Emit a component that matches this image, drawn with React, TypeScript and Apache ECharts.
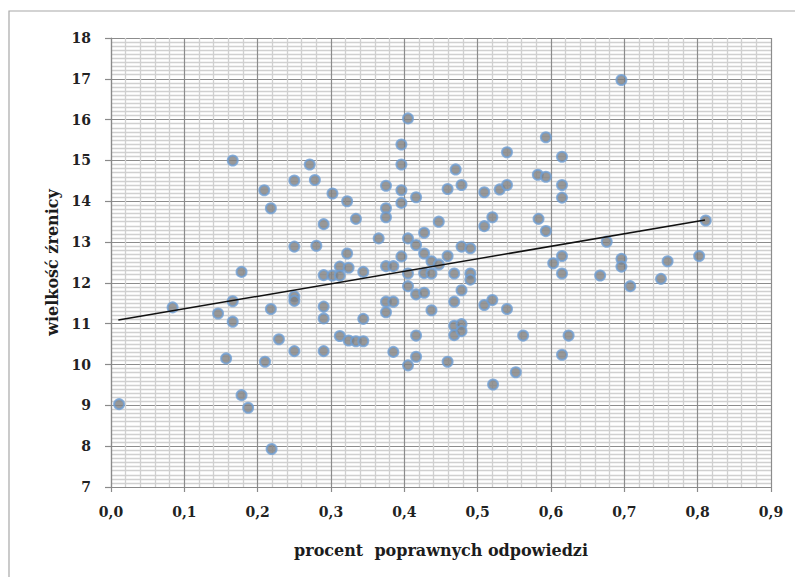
import React, { useEffect, useRef } from "react";
import * as echarts from "echarts";

// procent poprawnych odpowiedzi (x) and wielkość źrenicy (y)
const percentCorrect = [
  0.011, 0.084, 0.146, 0.157, 0.166, 0.166, 0.166, 0.178, 0.178, 0.187,
  0.209, 0.210, 0.218, 0.218, 0.219, 0.229, 0.250, 0.250, 0.250, 0.250,
  0.250, 0.271, 0.278, 0.280, 0.290, 0.290, 0.290, 0.290, 0.290, 0.302,
  0.302, 0.312, 0.312, 0.312, 0.322, 0.322, 0.324, 0.324, 0.334, 0.334,
  0.344, 0.344, 0.344, 0.365, 0.375, 0.375, 0.375, 0.375, 0.375, 0.375,
  0.385, 0.385, 0.385, 0.396, 0.396, 0.396, 0.396, 0.396, 0.405, 0.405,
  0.405, 0.405, 0.405, 0.416, 0.416, 0.416, 0.416, 0.416, 0.427, 0.427,
  0.427, 0.427, 0.437, 0.437, 0.437, 0.447, 0.447, 0.459, 0.459, 0.459,
  0.468, 0.468, 0.468, 0.468, 0.470, 0.478, 0.478, 0.478, 0.478, 0.478,
  0.490, 0.490, 0.490, 0.509, 0.509, 0.509, 0.520, 0.520, 0.521, 0.530,
  0.540, 0.540, 0.540, 0.552, 0.562, 0.582, 0.583, 0.593, 0.593, 0.593,
  0.603, 0.615, 0.615, 0.615, 0.615, 0.615, 0.615, 0.624, 0.667, 0.676,
  0.696, 0.696, 0.696, 0.708, 0.750, 0.759, 0.802, 0.811,
];
const pupilSize = [
  9.03, 11.40, 11.25, 10.15, 15.00, 11.55, 11.05, 12.27, 9.25, 8.94,
  14.27, 10.07, 13.83, 11.36, 7.93, 10.62, 14.51, 12.89, 11.67, 11.56,
  10.33, 14.90, 14.52, 12.91, 13.44, 12.19, 11.42, 11.13, 10.33, 14.19,
  12.18, 12.40, 12.18, 10.70, 14.00, 12.72, 12.37, 10.59, 13.57, 10.57,
  12.27, 11.12, 10.57, 13.09, 14.38, 13.83, 13.61, 12.41, 11.54, 11.28,
  12.41, 11.54, 10.31, 15.39, 14.90, 14.27, 13.96, 12.65, 16.03, 13.09,
  12.23, 11.92, 9.98, 14.10, 12.93, 11.72, 10.71, 10.19, 13.23, 12.72,
  12.24, 11.76, 12.53, 12.23, 11.33, 13.50, 12.45, 14.30, 12.66, 10.07,
  12.23, 11.54, 10.95, 10.72, 14.78, 14.40, 12.89, 11.82, 10.99, 10.82,
  12.85, 12.23, 12.08, 14.22, 13.39, 11.46, 13.61, 11.58, 9.51, 14.29,
  15.20, 14.40, 11.36, 9.81, 10.71, 14.65, 13.57, 15.57, 14.60, 13.27,
  12.48, 15.09, 14.40, 14.09, 12.66, 12.23, 10.24, 10.71, 12.18, 13.01,
  16.97, 12.59, 12.40, 11.92, 12.10, 12.53, 12.66, 13.53,
];
// linear trend line endpoints
const trendX = [0.01, 0.81];
const trendY = [11.09, 13.54];

const xTitle = "procent  poprawnych odpowiedzi";
const yTitle = "wielkość źrenicy";

export default function App() {
  const ref = useRef<HTMLDivElement>(null);
  useEffect(() => {
    if (!ref.current) return;
    const chart = echarts.init(ref.current, null, { renderer: "svg" });
    const font = "'DejaVu Serif', 'Liberation Serif', serif";
    const scatterData = percentCorrect.map((x, i) => [x, pupilSize[i]]);
    const trendData = trendX.map((x, i) => [x, trendY[i]]);
    chart.setOption({
      animation: false,
      backgroundColor: "#ffffff",
      graphic: [
        {
          type: "rect",
          shape: { x: 9, y: 11, width: 820, height: 620 },
          style: { fill: "none", stroke: "#a8a8a8", lineWidth: 1.2 },
          silent: true,
          z: -10,
        },
      ],
      grid: { left: 111, right: 24, top: 38, bottom: 90, containLabel: false },
      xAxis: {
        type: "value",
        min: 0,
        max: 0.9,
        interval: 0.1,
        name: xTitle,
        nameLocation: "middle",
        nameGap: 55,
        nameTextStyle: { fontFamily: font, fontWeight: "bold", fontSize: 16, color: "#1c1c1c" },
        axisLine: { show: true, onZero: false, lineStyle: { color: "#8a8a8a", width: 1.2 } },
        axisTick: { show: true, length: 5, lineStyle: { color: "#8a8a8a", width: 1.2 } },
        axisLabel: {
          margin: 18,
          fontFamily: font,
          fontWeight: "bold",
          fontSize: 14,
          color: "#222222",
          formatter: (v: number) => v.toFixed(1).replace(".", ","),
        },
        splitLine: { show: true, lineStyle: { color: "#8c8c8c", width: 1.2 } },
        minorTick: { show: false, splitNumber: 5 },
        minorSplitLine: { show: true, lineStyle: { color: "#d0d0d0", width: 1.3 } },
      },
      yAxis: {
        type: "value",
        min: 7,
        max: 18,
        interval: 1,
        name: yTitle,
        nameLocation: "middle",
        nameGap: 50,
        nameRotate: 90,
        nameTextStyle: { fontFamily: font, fontWeight: "bold", fontSize: 16, color: "#1c1c1c" },
        axisLine: { show: true, onZero: false, lineStyle: { color: "#8a8a8a", width: 1.2 } },
        axisTick: { show: true, length: 6, lineStyle: { color: "#8a8a8a", width: 1.2 } },
        axisLabel: {
          margin: 20,
          fontFamily: font,
          fontWeight: "bold",
          fontSize: 14,
          color: "#222222",
        },
        splitLine: { show: true, lineStyle: { color: "#8c8c8c", width: 1.2 } },
        minorTick: { show: false, splitNumber: 10 },
        minorSplitLine: { show: true, lineStyle: { color: "#d0d0d0", width: 1.3 } },
      },
      series: [
        {
          type: "scatter",
          data: scatterData,
          symbol: "circle",
          symbolSize: 10,
          itemStyle: { color: "#808080", borderColor: "#6f9fd4", borderWidth: 2 },
          z: 3,
        },
        {
          type: "line",
          data: trendData,
          symbol: "none",
          lineStyle: { color: "#111111", width: 1.5 },
          z: 4,
        },
      ],
    });
    return () => chart.dispose();
  }, []);
  return (
    <div
      ref={ref}
      style={{ position: "absolute", left: 0, top: 0, width: 795, height: 577, background: "#fff" }}
    />
  );
}
